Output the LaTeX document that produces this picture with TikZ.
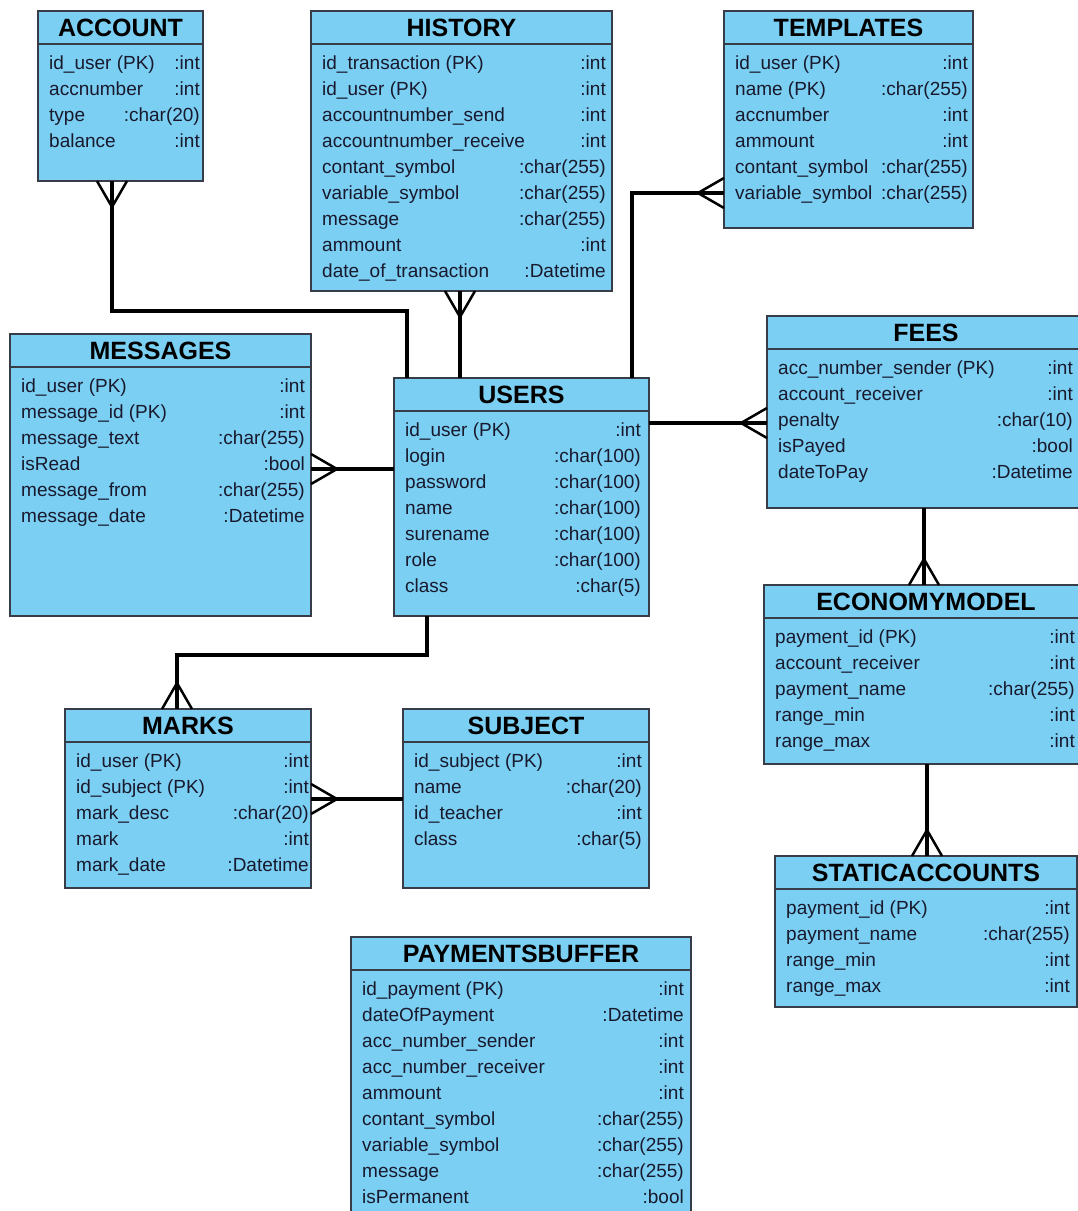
\documentclass[tikz,border=0pt]{standalone}
\usepackage{fontspec}
\setmainfont{Liberation Sans}
\usetikzlibrary{calc}
\definecolor{tblfill}{RGB}{122,207,243}
\definecolor{tblline}{RGB}{55,60,70}
\definecolor{txt}{RGB}{25,25,45}
\tikzset{
  tbl/.style={draw=tblline, line width=1.8pt, fill=tblfill, inner sep=0pt, outer sep=0pt, anchor=north west},
  sepline/.style={draw=tblline, line width=1.8pt},
  ttl/.style={font=\fontsize{25}{25}\selectfont\bfseries, text=black, inner sep=0pt, anchor=base},
  fname/.style={font=\fontsize{19}{19}\selectfont, text=txt, anchor=base west, inner sep=0pt},
  ftype/.style={font=\fontsize{19}{19}\selectfont, text=txt, anchor=base east, inner sep=0pt},
  rel/.style={line width=4.5pt, black},
  foot/.style={line width=2.5pt, black, line join=miter},
}
% #1 name #2 x1 #3 y1 #4 x2 #5 y2 #6 title #7 type x #8 rows
\newcommand\erent[8]{%
  \node[tbl, minimum width={(#4-#2)*1pt}, minimum height={(#5-#3)*1pt}] (#1) at (#2,#3) {};
  \draw[sepline] ($(#1.north west)+(0,33)$) -- ($(#1.north east)+(0,33)$);
  \node[ttl] (#1-title) at ({(#2+#4)/2},{#3+16.5+9}) {#6};
  \foreach \fn/\ft [count=\i] in {#8} {%
    \pgfmathsetmacro\ry{#3+33+18.5+7+26*(\i-1)}%
    \node[fname] (#1-n\i) at ({#2+11},{\ry}) {\fn};%
    \node[ftype] (#1-t\i) at ({#7},{\ry}) {\ft};%
  }%
}
\newcommand\crow[3]{\draw[foot] ($(#1)+#3$) -- ($(#1)+#2$) -- ($(#1)-#3$);}
\begin{document}
\begin{tikzpicture}[x=1pt,y=-1pt]
\useasboundingbox (0,0) rectangle (1078,1211);
\fill[white] (0,0) rectangle (1078,1211);

\erent{account}{38}{11}{203}{181}{ACCOUNT}{200}{id\_user (PK)/:int,%
accnumber/:int,%
type/:char(20),%
balance/:int}

\erent{history}{311}{11}{612}{291}{HISTORY}{606}{id\_transaction (PK)/:int,%
id\_user (PK)/:int,%
accountnumber\_send/:int,%
accountnumber\_receive/:int,%
contant\_symbol/:char(255),%
variable\_symbol/:char(255),%
message/:char(255),%
ammount/:int,%
date\_of\_transaction/:Datetime}

\erent{templates}{724}{11}{973}{228}{TEMPLATES}{968}{id\_user (PK)/:int,%
name (PK)/:char(255),%
accnumber/:int,%
ammount/:int,%
contant\_symbol/:char(255),%
variable\_symbol/:char(255)}

\erent{messages}{10}{334}{311}{616}{MESSAGES}{305}{id\_user (PK)/:int,%
message\_id (PK)/:int,%
message\_text/:char(255),%
isRead/:bool,%
message\_from/:char(255),%
message\_date/:Datetime}

\erent{users}{394}{378}{649}{616}{USERS}{641}{id\_user (PK)/:int,%
login/:char(100),%
password/:char(100),%
name/:char(100),%
surename/:char(100),%
role/:char(100),%
class/:char(5)}

\erent{fees}{767}{316}{1085}{508}{FEES}{1073}{acc\_number\_sender (PK)/:int,%
account\_receiver/:int,%
penalty/:char(10),%
isPayed/:bool,%
dateToPay/:Datetime}

\erent{economymodel}{764}{585}{1088}{764}{ECONOMYMODEL}{1075}{payment\_id (PK)/:int,%
account\_receiver/:int,%
payment\_name/:char(255),%
range\_min/:int,%
range\_max/:int}

\erent{staticaccounts}{775}{856}{1077}{1007}{STATICACCOUNTS}{1070}{payment\_id (PK)/:int,%
payment\_name/:char(255),%
range\_min/:int,%
range\_max/:int}

\erent{marks}{65}{709}{311}{888}{MARKS}{309}{id\_user (PK)/:int,%
id\_subject (PK)/:int,%
mark\_desc/:char(20),%
mark/:int,%
mark\_date/:Datetime}

\erent{subject}{403}{709}{649}{888}{SUBJECT}{642}{id\_subject (PK)/:int,%
name/:char(20),%
id\_teacher/:int,%
class/:char(5)}

\erent{paymentsbuffer}{351}{937}{691}{1240}{PAYMENTSBUFFER}{684}{id\_payment (PK)/:int,%
dateOfPayment/:Datetime,%
acc\_number\_sender/:int,%
acc\_number\_receiver/:int,%
ammount/:int,%
contant\_symbol/:char(255),%
variable\_symbol/:char(255),%
message/:char(255),%
isPermanent/:bool}

% connector end points
\coordinate (c1a) at ([xshift=74pt]account.south west);
\coordinate (c1b) at ([xshift=13pt]users.north west);
\coordinate (c2a) at ([xshift=149pt]history.south west);
\coordinate (c3a) at ([xshift=238pt]users.north west);
\coordinate (c3b) at ([yshift=-182pt]templates.north west);
\coordinate (c4a) at ([yshift=-45pt]users.north east);
\coordinate (c5a) at ([yshift=-91pt]users.north west);
\coordinate (c6a) at ([xshift=33pt]users.south west);
\coordinate (c6b) at ([xshift=112pt]marks.north west);
\coordinate (c7a) at ([yshift=-90pt]subject.north west);
\coordinate (c8a) at ([xshift=157pt]fees.south west);
\coordinate (c9a) at ([xshift=163pt]economymodel.south west);

\draw[rel] (c1a) -- ++(0,130) -| (c1b);
\crow{c1a}{(0,26)}{(15,0)}
\draw[rel] (c2a) -- (c2a |- users.north);
\crow{c2a}{(0,26)}{(15,0)}
\draw[rel] (c3a) |- (c3b);
\crow{c3b}{(-26,0)}{(0,15)}
\draw[rel] (c4a) -- (c4a -| fees.west);
\coordinate (c4b) at (c4a -| fees.west);
\crow{c4b}{(-26,0)}{(0,15)}
\draw[rel] (c5a) -- (c5a -| messages.east);
\coordinate (c5b) at (c5a -| messages.east);
\crow{c5b}{(26,0)}{(0,15)}
\draw[rel] (c6a) -- ++(0,39) -| (c6b);
\crow{c6b}{(0,-26)}{(15,0)}
\draw[rel] (c7a) -- (c7a -| marks.east);
\coordinate (c7b) at (c7a -| marks.east);
\crow{c7b}{(26,0)}{(0,15)}
\draw[rel] (c8a) -- (c8a |- economymodel.north);
\coordinate (c8b) at (c8a |- economymodel.north);
\crow{c8b}{(0,-26)}{(15,0)}
\draw[rel] (c9a) -- (c9a |- staticaccounts.north);
\coordinate (c9b) at (c9a |- staticaccounts.north);
\crow{c9b}{(0,-26)}{(15,0)}
\end{tikzpicture}
\end{document}
